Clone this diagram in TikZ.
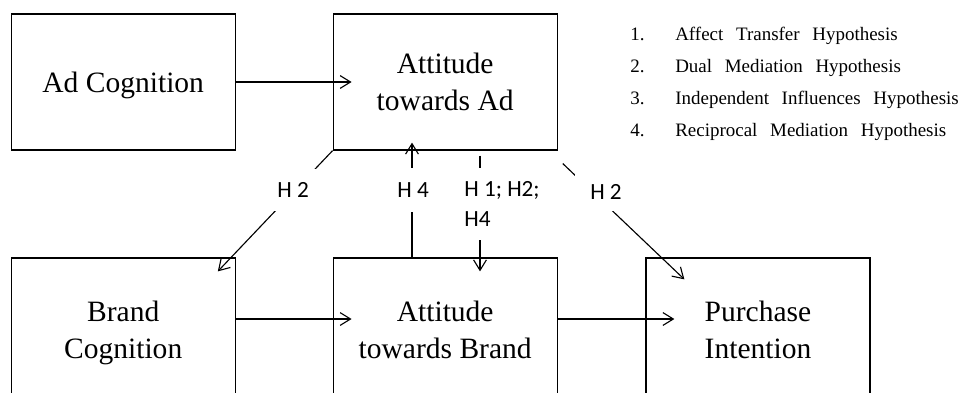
\documentclass[tikz,border=0pt]{standalone}
\usepackage{fontspec}
\setmainfont{Liberation Serif}
\newfontfamily\hypfont{Carlito}
\usetikzlibrary{arrows.meta}
\newcommand\widespaces{\spaceskip=9pt\relax}

\begin{document}
\begin{tikzpicture}[>={Straight Barb[length=2.6mm,width=3.2mm]},
  box/.style={draw,line width=.9pt,minimum width=5.6cm,align=center,text depth=0pt,font=\fontsize{21}{26.3}\selectfont},
  hyp/.style={fill=white,inner sep=0pt,align=left,font=\hypfont\fontsize{16.5}{21.3}\selectfont},
  legend/.style={inner sep=0pt,font=\fontsize{13.5}{15}\selectfont\widespaces},
  arr/.style={->,line width=.8pt}]
\useasboundingbox (0,0) rectangle (24.2,9.8);
\clip (0,0) rectangle (24.2,9.8);

% the five constructs
\node[box,minimum height=3.4cm] (adcog) at (3.08,7.75) {Ad Cognition};
\node[box,minimum height=3.4cm] (attad) at (11.13,7.75) {Attitude\\towards Ad};
\node[box,minimum height=3.6cm] (brandcog) at (3.08,1.55) {Brand\\Cognition};
\node[box,minimum height=3.6cm] (attbrand) at (11.13,1.55) {Attitude\\towards Brand};
\node[box,minimum height=3.6cm] (purchase) at (18.95,1.55) {Purchase\\Intention};

% horizontal paths
\draw[arr,shorten >=-4.75mm] (adcog) -- (attad);
\draw[arr,shorten >=-4.75mm] ([yshift=2.75mm]brandcog.east) -- ([yshift=2.75mm]attbrand.west);
\draw[arr,shorten >=-7.25mm] ([yshift=2.75mm]attbrand.east) -- ([yshift=2.75mm]purchase.west);

% paths between the two rows
\draw[arr] (attad.south west) -- ([shift={(-.45,-.35)}]brandcog.north east);
\draw[arr] ([xshift=-8.3mm]attbrand.north) -- ([xshift=-8.3mm,yshift=2mm]attad.south);
\draw[arr] ([xshift=8.7mm,yshift=-1.25mm]attad.south) -- ([xshift=8.7mm,yshift=-3.5mm]attbrand.north);
\draw[arr] ([shift={(.125,-.325)}]attad.south east) -- ([shift={(.975,-.55)}]purchase.north west);

% hypothesis labels
\node[hyp,minimum width=1.3cm,minimum height=1.05cm] (h2a) at (7.33,5.05) {H 2};
\node[hyp,minimum width=1.1cm,minimum height=1.12cm] (h4) at (10.33,5.05) {H 4};
\node[hyp,minimum width=2.1cm,minimum height=1.8cm] (h1) at (12.55,4.7) {H 1; H2;\\H4};
\node[hyp,minimum width=1.55cm,minimum height=.95cm] (h2b) at (15.15,5.0) {H 2};

% list of hypotheses
\foreach \k/\ktext in {1/Affect Transfer Hypothesis,2/Dual Mediation Hypothesis,3/Independent Influences Hypothesis,4/Reciprocal Mediation Hypothesis}
{
    \node[legend,anchor=base west] (num\k) at (15.75,9.6-.8*\k) {\k.};
    \node[legend,anchor=base west] (hyp\k) at (16.875,9.6-.8*\k) {\ktext};
}

\end{tikzpicture}
\end{document}
